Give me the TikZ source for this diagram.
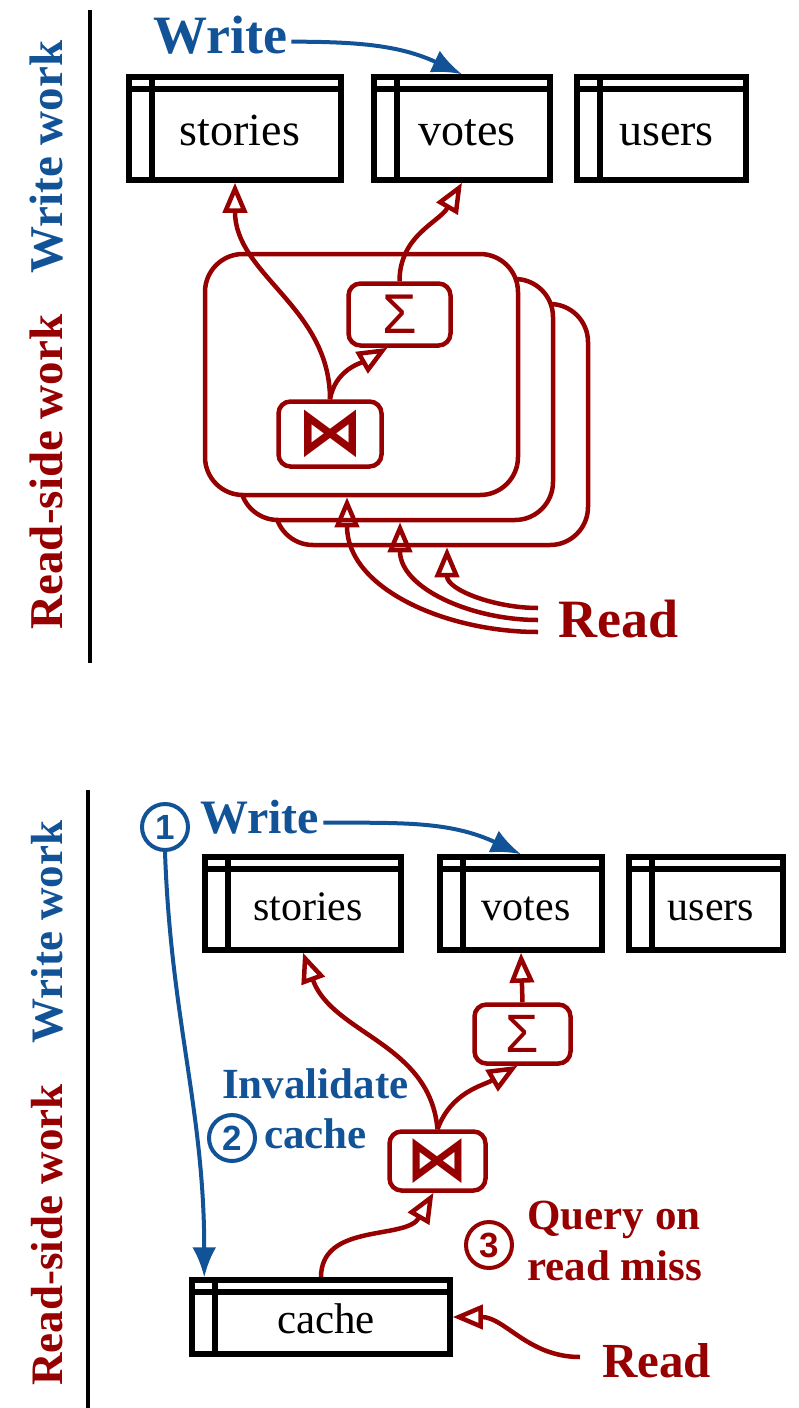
\documentclass[tikz,border=0pt]{standalone}
\usepackage{fontspec}
\setmainfont{Liberation Serif}
\newfontfamily\numfont{Liberation Sans}
\newfontfamily\symfont{DejaVu Sans}
\usetikzlibrary{arrows.meta}
\definecolor{wblue}{RGB}{17,83,150}
\definecolor{rred}{RGB}{150,0,0}

\begin{document}
\begin{tikzpicture}[x=1pt,y=-1pt,
  tablestyle/.style={draw,line width=5.5pt,inner sep=0pt,text height=34pt,
    execute at begin node=\hspace*{10pt},
    path picture={\draw[line width=5.5pt]
      ([yshift=-12pt]path picture bounding box.north west) -- ([yshift=-12pt]path picture bounding box.north east)
      ([xshift=23pt]path picture bounding box.north west) -- ([xshift=23pt]path picture bounding box.south west);}},
  cardstyle/.style={draw=rred,fill=white,line width=4.5pt,rounded corners=38pt,minimum width=313pt,minimum height=241pt},
  opstyle/.style={draw=rred,text=rred,line width=4.5pt,rounded corners=12pt,inner sep=0pt},
  numstyle/.style={circle,line width=4pt,minimum size=46pt,inner sep=0pt,font=\numfont\bfseries\fontsize{35}{35}\selectfont},
  sidelabel/.style={rotate=90,anchor=base,inner sep=0pt,font=\bfseries\fontsize{47}{47}\selectfont},
  bluearrow/.style={draw=wblue,line width=4pt,-{Latex[length=30pt,width=24pt]}},
  redarrow/.style={draw=rred,line width=4.5pt,-{Triangle[open,length=30pt,width=24pt]}}]
  \useasboundingbox (0,0) rectangle (799,1408);

  % ---- upper half: work done at read time ----
  \node[sidelabel,text=wblue] (wwA) at (62,157) {Write work};
  \node[sidelabel,text=rred] (rwA) at (62,472) {Read-side work};
  \draw[line width=4.5pt] (90,10) -- (90,663);

  \node[tablestyle,minimum width=212pt,minimum height=103pt,font=\fontsize{46}{46}\selectfont] (storiesA) at (235,128.5) {stories};
  \node[tablestyle,minimum width=176pt,minimum height=103pt,font=\fontsize{46}{46}\selectfont] (votesA) at (462,128.5) {votes};
  \node[tablestyle,minimum width=169pt,minimum height=103pt,font=\fontsize{46}{46}\selectfont] (usersA) at (661.5,128.5) {users};

  % one query plan per read, stacked
  \foreach \i in {3,2,1}
    \node[cardstyle] (card\i) at (326.5+35*\i,349.5+25*\i) {};

  \node[opstyle,minimum width=102pt,minimum height=62pt,font=\numfont\fontsize{56}{56}\selectfont] (sumA) at (399.5,314.5) {Σ};
  \node[opstyle,minimum width=103pt,minimum height=65pt,font=\symfont\bfseries\fontsize{66}{66}\selectfont] (joinA) at (330,434) {⋈};

  \node[anchor=base west,inner sep=4pt,text=wblue,font=\bfseries\fontsize{54}{54}\selectfont] (writeA) at (149,53) {Write};
  \draw[bluearrow] ([yshift=-7pt]writeA.east) to[out=0,in=155] (votesA.north);

  \draw[redarrow] (joinA.north) to[out=90,in=-90] (storiesA.south);
  \draw[redarrow] (joinA.north) to[out=80,in=210] ([xshift=-12pt]sumA.south);
  \draw[redarrow] (sumA.north) to[out=90,in=240] (votesA.south);

  \coordinate (rA1) at (538,632);
  \coordinate (rA2) at (538,620);
  \coordinate (rA3) at (538,608);
  \node[anchor=base west,inner sep=0pt,text=rred,font=\bfseries\fontsize{54}{54}\selectfont] (readA) at (558,637) {Read};
  \foreach \i/\dx in {1/-14.5,2/3.5,3/15.5}
    \draw[redarrow] (rA\i) to[out=180,in=-90] ([xshift=\dx pt]card\i.south);

  % ---- lower half: cache in front of the tables ----
  \node[sidelabel,text=wblue,font=\bfseries\fontsize{45}{45}\selectfont] (wwB) at (62,932) {Write work};
  \node[sidelabel,text=rred,font=\bfseries\fontsize{45}{45}\selectfont] (rwB) at (62,1235) {Read-side work};
  \draw[line width=4.5pt] (88,790) -- (88,1408);

  \node[tablestyle,minimum width=196pt,minimum height=93pt,font=\fontsize{42}{42}\selectfont] (storiesB) at (303,903.5) {stories};
  \node[tablestyle,minimum width=162pt,minimum height=93pt,font=\fontsize{42}{42}\selectfont] (votesB) at (521,903.5) {votes};
  \node[tablestyle,minimum width=154pt,minimum height=93pt,font=\fontsize{42}{42}\selectfont] (usersB) at (706,903.5) {users};
  \node[tablestyle,minimum width=258pt,minimum height=74pt,font=\fontsize{43}{43}\selectfont] (cache) at (321,1317) {cache};

  \node[opstyle,minimum width=96pt,minimum height=59pt,font=\numfont\fontsize{54}{54}\selectfont] (sumB) at (522.5,1034) {Σ};
  \node[opstyle,minimum width=96pt,minimum height=59pt,font=\symfont\bfseries\fontsize{62}{62}\selectfont] (joinB) at (437.5,1161) {⋈};

  \node[numstyle,draw=wblue,text=wblue] (one) at (165,827) {1};
  \node[anchor=base west,inner sep=4pt,text=wblue,font=\bfseries\fontsize{48}{48}\selectfont] (writeB) at (196,833) {Write};
  \node[numstyle,draw=wblue,text=wblue] (two) at (232,1138) {2};
  \node[anchor=base west,inner sep=0pt,text=wblue,font=\bfseries\fontsize{43}{43}\selectfont] (inval) at (222,1098) {Invalidate};
  \node[anchor=base west,inner sep=0pt,text=wblue,font=\bfseries\fontsize{43}{43}\selectfont] (invalB) at (264,1148) {cache};
  \node[numstyle,draw=rred,text=rred] (three) at (489,1245) {3};
  \node[anchor=west,align=left,inner sep=0pt,text=rred,font=\bfseries\fontsize{43}{51}\selectfont] (query) at (527,1241) {Query on\\read miss};
  \coordinate (rB) at (580,1357);
  \node[anchor=base west,inner sep=0pt,text=rred,font=\bfseries\fontsize{49}{49}\selectfont] (readB) at (602,1377) {Read};

  \draw[bluearrow] ([yshift=-6pt]writeB.east) to[out=0,in=155] (votesB.north);
  \draw[bluearrow] (one.south) to[out=-88,in=90] ([xshift=15pt]cache.north west);
  \draw[redarrow] (joinB.north) to[out=95,in=-70] (storiesB.south);
  \draw[redarrow] (joinB.north) to[out=70,in=210] ([xshift=-5pt]sumB.south);
  \draw[redarrow] (sumB.north) -- (votesB.south);
  \draw[redarrow] (cache.north) to[out=90,in=240] ([xshift=-4pt]joinB.south);
  \draw[redarrow] (rB) to[out=180,in=0] (cache.east);
\end{tikzpicture}
\end{document}
